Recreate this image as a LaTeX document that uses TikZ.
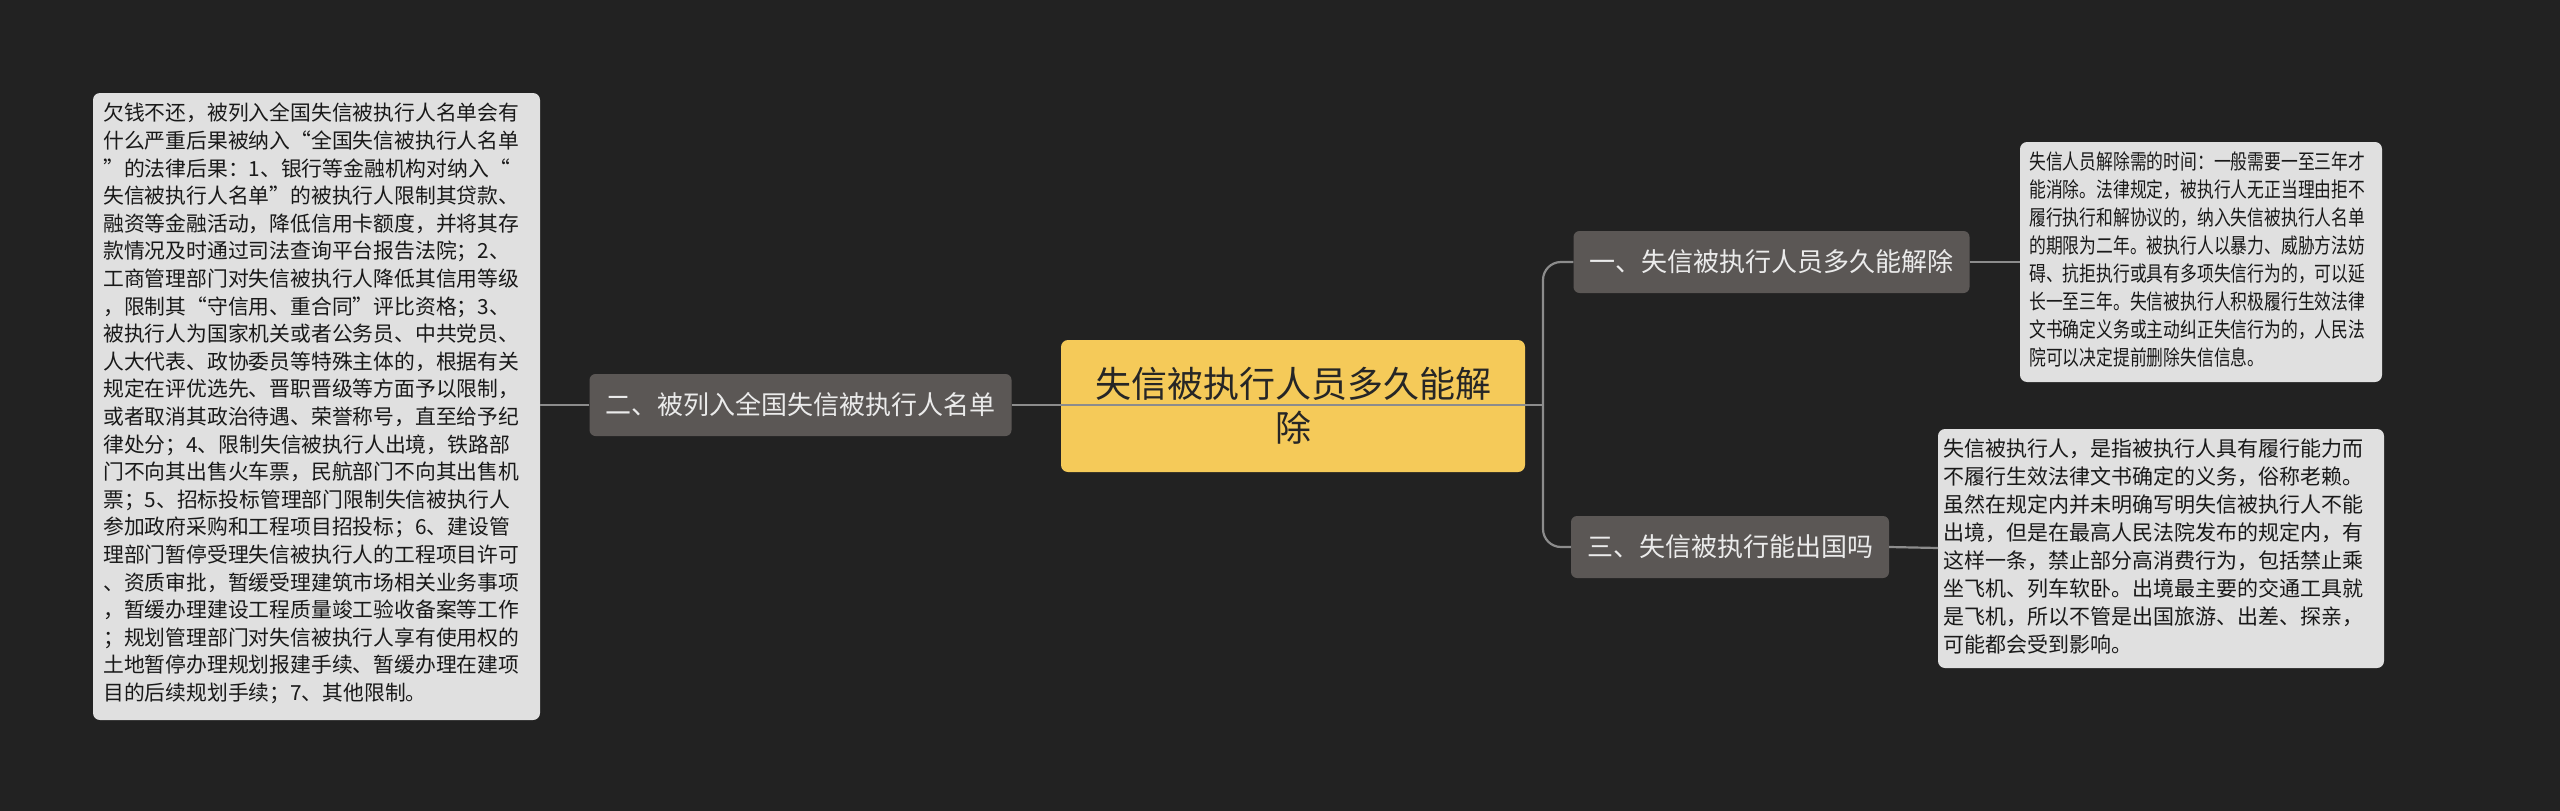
\documentclass[tikz,border=0pt]{standalone}
\usepackage{fontspec}
\setmainfont{Noto Sans CJK SC}
\newfontfamily\narrowcjk[FakeStretch=0.8]{Noto Sans CJK SC}
\definecolor{bg}{HTML}{222222}
\definecolor{leaf}{HTML}{E0E0E0}
\definecolor{br}{HTML}{5B5755}
\definecolor{ctr}{HTML}{F5CA59}
\definecolor{ln}{HTML}{8C8C8C}
\begin{document}
\begin{tikzpicture}[x=1pt,y=-1pt,
 leafbox/.style={fill=none,align=left,inner sep=0pt,anchor=north west,font=\fontsize{20.8}{27.6}\selectfont,text=black!90},
 brbox/.style={fill=br,rounded corners=6pt,text=white!92!black,font=\fontsize{26}{32}\selectfont,inner xsep=16pt,minimum height=62pt},
 conn/.style={draw=ln,line width=2.2pt}]
\fill[bg] (0,0) rectangle (2560,811);
\useasboundingbox (0,0) rectangle (2560,811);
\fill[leaf,rounded corners=7pt] (93,93) rectangle (540,720);
\node[leafbox] (L) at (103,103) {欠钱不还，被列入全国失信被执行人名单会有\\什么严重后果被纳入“全国失信被执行人名单\\”的法律后果：1、银行等金融机构对纳入“\\失信被执行人名单”的被执行人限制其贷款、\\融资等金融活动，降低信用卡额度，并将其存\\款情况及时通过司法查询平台报告法院；2、\\工商管理部门对失信被执行人降低其信用等级\\，限制其“守信用、重合同”评比资格；3、\\被执行人为国家机关或者公务员、中共党员、\\人大代表、政协委员等特殊主体的，根据有关\\规定在评优选先、晋职晋级等方面予以限制，\\或者取消其政治待遇、荣誉称号，直至给予纪\\律处分；4、限制失信被执行人出境，铁路部\\门不向其出售火车票，民航部门不向其出售机\\票；5、招标投标管理部门限制失信被执行人\\参加政府采购和工程项目招投标；6、建设管\\理部门暂停受理失信被执行人的工程项目许可\\、资质审批，暂缓受理建筑市场相关业务事项\\，暂缓办理建设工程质量竣工验收备案等工作\\；规划管理部门对失信被执行人享有使用权的\\土地暂停办理规划报建手续、暂缓办理在建项\\目的后续规划手续；7、其他限制。};
\coordinate (Lc) at (540,405);
\fill[leaf,rounded corners=7pt] (2020,142) rectangle (2382,382);
\node[leafbox,font=\narrowcjk\fontsize{21}{28}\selectfont] (R1) at (2029,152) {失信人员解除需的时间：一般需要一至三年才\\能消除。法律规定，被执行人无正当理由拒不\\履行执行和解协议的，纳入失信被执行人名单\\的期限为二年。被执行人以暴力、威胁方法妨\\碍、抗拒执行或具有多项失信行为的，可以延\\长一至三年。失信被执行人积极履行生效法律\\文书确定义务或主动纠正失信行为的，人民法\\院可以决定提前删除失信信息。};
\coordinate (R1w) at (2020,262);
\fill[leaf,rounded corners=7pt] (1938,429) rectangle (2384,668);
\node[leafbox,font=\fontsize{21}{28}\selectfont] (R3) at (1943,439) {失信被执行人，是指被执行人具有履行能力而\\不履行生效法律文书确定的义务，俗称老赖。\\虽然在规定内并未明确写明失信被执行人不能\\出境，但是在最高人民法院发布的规定内，有\\这样一条，禁止部分高消费行为，包括禁止乘\\坐飞机、列车软卧。出境最主要的交通工具就\\是飞机，所以不管是出国旅游、出差、探亲，\\可能都会受到影响。};
\coordinate (R3w) at (1938,548);
\node[fill=ctr,rounded corners=7pt,minimum width=464pt,minimum height=132pt,align=center,font=\fontsize{36}{44}\selectfont,text=black!85] (C) at (1293,406) {失信被执行人员多久能解\\除};
\node[brbox] (B2) at (800.5,405) {二、被列入全国失信被执行人名单};
\node[brbox] (B1) at (1771.5,262) {一、失信被执行人员多久能解除};
\node[brbox] (B3) at (1730,547) {三、失信被执行能出国吗};
\coordinate (J) at (1543,405);
\draw[conn] (B2.east) -- (J);
\draw[conn,rounded corners=18pt] (J) -- (1543,262) -- (B1.west);
\draw[conn,rounded corners=18pt] (J) -- (1543,547) -- (B3.west);
\draw[conn] (B2.west) -- (Lc);
\draw[conn] (B1.east) -- (R1w);
\draw[conn] (B3.east) -- (R3w);
\end{tikzpicture}
\end{document}
